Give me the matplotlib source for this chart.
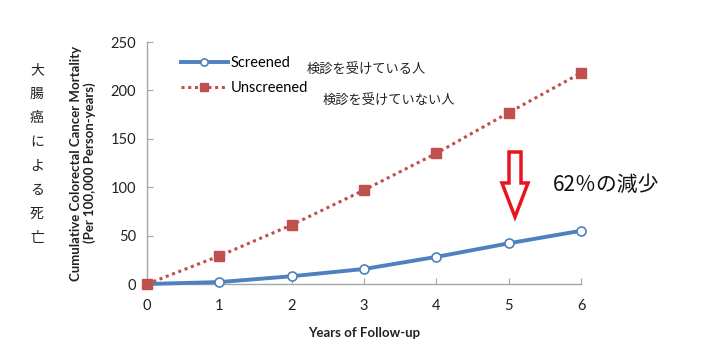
import matplotlib
matplotlib.use("Agg")
import matplotlib.pyplot as plt
from matplotlib.patches import Polygon

years = [0, 1, 2, 3, 4, 5, 6]
screened = [0, 2, 8, 15.5, 28, 42, 55]
unscreened = [0, 29, 61, 97, 135, 177, 218]
yticks = [0, 50, 100, 150, 200, 250]
labels = ["Screened", "Unscreened"]
labels_ja = ["検診を受けている人", "検診を受けていない人"]
ylabel_ja = "大腸癌による死亡"
annot = "62％の減少"

W, H = 702, 344
fig = plt.figure(figsize=(W/100, H/100), dpi=100)
plt.rcParams['font.family'] = ['Lato', 'Noto Sans CJK JP', 'DejaVu Sans']
jp = ['Noto Sans CJK JP', 'DejaVu Sans']

ax = fig.add_axes([147/W, 1-284/H, (581-147)/W, (284-42)/H])
ax.set_xlim(0, 6)
ax.set_ylim(0, 250)
ax.set_xticks(years)
ax.set_yticks(yticks)
for s in ['top', 'right']:
    ax.spines[s].set_visible(False)
for s in ['left', 'bottom']:
    ax.spines[s].set_color('#a6a6a6')
    ax.spines[s].set_linewidth(1.0)
ax.tick_params(direction='in', length=4, color='#a6a6a6', labelsize=10.5, labelcolor='#222222')
ax.tick_params(axis='x', pad=11)
ax.tick_params(axis='y', pad=8)

l1, = ax.plot(years, screened, color='#4F81BD', lw=2.8, marker='o', ms=6.5,
              mfc='white', mec='#4F81BD', mew=1.2, label=labels[0], clip_on=False, zorder=3)
l2, = ax.plot(years, unscreened, color='#C0504D', lw=2.2, ls=(0, (1, 1.2)), marker='s', ms=6.5,
              mfc='#C0504D', mec='#C0504D', label=labels[1], clip_on=False, zorder=4)

leg = ax.legend(handles=[l1, l2], loc='upper left', bbox_to_anchor=(181/W, 1-56/H),
                bbox_transform=fig.transFigure, frameon=False, fontsize=10.5, markerscale=0.8,
                handlelength=3.2, handletextpad=0.2, labelspacing=0.75, borderpad=0, borderaxespad=0)

fig.text(307/W, 1-70/H, labels_ja[0], family=jp, fontsize=9.5, va='center', ha='left', color='#222222')
fig.text(323/W, 1-101/H, labels_ja[1], family=jp, fontsize=9.5, va='center', ha='left', color='#222222')

ax.set_xlabel("Years of Follow-up", fontsize=9.5, fontweight='bold', color='#222222', labelpad=10)
ax.set_ylabel("Cumulative Colorectal Cancer Mortality\n(Per 100,000 Person-years)", fontsize=9.5,
              fontweight='bold', color='#222222', labelpad=10, linespacing=1.15)

ys = [70 + i*(238-70)/7 for i in range(len(ylabel_ja))]
for ch, y in zip(ylabel_ja, ys):
    fig.text(37/W, 1-y/H, ch, family=jp, fontsize=10, ha='center', va='center', color='#222222')

fig.text(553/W, 1-185/H, annot, family=jp, fontsize=15, ha='left', va='center', color='#111111')

arrow_px = [(509, 152), (521, 152), (521, 183), (528, 183), (515, 217), (502, 183), (509, 183)]
poly = Polygon([(x/W, 1-y/H) for x, y in arrow_px], closed=True, transform=fig.transFigure,
               facecolor='white', edgecolor='#E8141E', lw=2.5, joinstyle='miter')
fig.patches.append(poly)

fig.savefig("out.png", dpi=100)
